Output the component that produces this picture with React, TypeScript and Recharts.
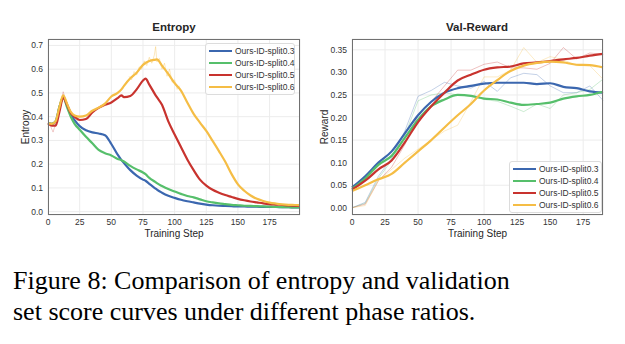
import { CartesianGrid, Line, LineChart, XAxis, YAxis } from 'recharts';

const FONT = '"Liberation Sans", Arial, Helvetica, sans-serif';

const splitNames = ['Ours-ID-split0.3', 'Ours-ID-split0.4', 'Ours-ID-split0.5', 'Ours-ID-split0.6'];
const splitColors = ['#3B67AF', '#56BF6B', '#C8332E', '#F5BD45'];
const splitKeys = ['s03', 's04', 's05', 's06'];

// Entropy curves (smoothed), sampled on a shared step grid
const entropySteps = [
  0, 3, 6, 9, 12, 15, 18, 21, 25, 30, 35, 40, 45, 50, 55, 58, 60, 65, 70, 75, 77, 80, 85, 86, 90, 95,
  100, 105, 110, 115, 120, 125, 130, 135, 140, 145, 150, 155, 160, 165, 170, 175, 180, 185, 190, 195, 199,
];
const entropy03 = [
  0.372, 0.37, 0.38, 0.44, 0.482, 0.45, 0.41, 0.385, 0.36, 0.343, 0.334, 0.329, 0.322, 0.285, 0.24, 0.217, 0.205,
  0.175, 0.152, 0.135, 0.13, 0.117, 0.097, 0.093, 0.08, 0.067, 0.058, 0.05, 0.044, 0.039, 0.034, 0.03, 0.027,
  0.025, 0.024, 0.023, 0.022, 0.022, 0.021, 0.021, 0.02, 0.02, 0.02, 0.019, 0.019, 0.018, 0.018,
];
const entropy04 = [
  0.372, 0.37, 0.38, 0.44, 0.482, 0.44, 0.4, 0.37, 0.345, 0.315, 0.288, 0.26, 0.246, 0.237, 0.222, 0.217, 0.211,
  0.193, 0.178, 0.165, 0.158, 0.142, 0.124, 0.12, 0.108, 0.095, 0.085, 0.075, 0.066, 0.06, 0.052, 0.044, 0.039,
  0.035, 0.032, 0.029, 0.027, 0.025, 0.024, 0.023, 0.022, 0.021, 0.02, 0.019, 0.019, 0.018, 0.018,
];
const entropy05 = [
  0.372, 0.362, 0.362, 0.42, 0.48, 0.45, 0.415, 0.4, 0.386, 0.39, 0.418, 0.437, 0.45, 0.46, 0.478, 0.49, 0.482,
  0.487, 0.515, 0.552, 0.56, 0.535, 0.49, 0.482, 0.45, 0.38, 0.325, 0.272, 0.22, 0.175, 0.135, 0.11, 0.092, 0.08,
  0.07, 0.062, 0.054, 0.048, 0.043, 0.039, 0.035, 0.032, 0.03, 0.028, 0.026, 0.025, 0.024,
];
const entropy06 = [
  0.372, 0.37, 0.38, 0.44, 0.49, 0.455, 0.42, 0.405, 0.4, 0.405, 0.425, 0.438, 0.455, 0.485, 0.5, 0.515, 0.53,
  0.562, 0.585, 0.618, 0.626, 0.634, 0.64, 0.641, 0.615, 0.58, 0.541, 0.51, 0.46, 0.412, 0.375, 0.34, 0.298, 0.255,
  0.21, 0.158, 0.115, 0.088, 0.068, 0.054, 0.045, 0.038, 0.034, 0.031, 0.029, 0.028, 0.027,
];

// Raw (unsmoothed) entropy where the noise shows through
const rawEntropySteps05 = [0, 2, 4, 6, 8, 10, 12, 14, 16];
const rawEntropy05 = [0.37, 0.36, 0.335, 0.37, 0.4, 0.46, 0.505, 0.47, 0.44];
const rawEntropySteps06 = [64, 66, 68, 70, 72, 74, 76, 78, 80, 82, 84, 85, 86, 88, 90, 92, 94, 96, 98, 100, 102, 104];
const rawEntropy06 = [
  0.57, 0.555, 0.59, 0.575, 0.61, 0.6, 0.635, 0.615, 0.65, 0.625, 0.66, 0.695, 0.63, 0.645, 0.6, 0.625, 0.57,
  0.6, 0.545, 0.555, 0.515, 0.53,
];

// Validation reward, evaluated every 10 steps: raw and smoothed
const rewardSteps = [0, 10, 20, 30, 40, 50, 60, 70, 80, 90, 100, 110, 120, 130, 140, 150, 160, 170, 180, 190];
const reward03 = [
  0.045, 0.07, 0.1, 0.125, 0.165, 0.205, 0.235, 0.255, 0.265, 0.27, 0.275, 0.277, 0.277, 0.277, 0.274, 0.276,
  0.268, 0.265, 0.258, 0.255,
];
const reward04 = [
  0.042, 0.065, 0.095, 0.115, 0.155, 0.195, 0.225, 0.24, 0.25, 0.248, 0.242, 0.24, 0.233, 0.228, 0.23, 0.233,
  0.242, 0.247, 0.25, 0.257,
];
const reward05 = [
  0.04, 0.06, 0.085, 0.105, 0.145, 0.19, 0.225, 0.255, 0.282, 0.295, 0.306, 0.311, 0.313, 0.32, 0.322, 0.325,
  0.329, 0.332, 0.337, 0.341,
];
const reward06 = [
  0.037, 0.05, 0.063, 0.075, 0.1, 0.125, 0.15, 0.178, 0.205, 0.23, 0.26, 0.283, 0.303, 0.315, 0.321, 0.324,
  0.322, 0.317, 0.316, 0.311,
];
const rawReward03 = [
  0.0, 0.012, 0.07, 0.11, 0.17, 0.247, 0.26, 0.278, 0.27, 0.265, 0.28, 0.258, 0.288, 0.298, 0.295, 0.27, 0.255,
  0.255, 0.27, 0.238,
];
const rawReward04 = [
  0.0, 0.01, 0.065, 0.105, 0.16, 0.237, 0.25, 0.255, 0.25, 0.248, 0.24, 0.236, 0.225, 0.213, 0.23, 0.22, 0.25,
  0.255, 0.262, 0.285,
];
const rawReward05 = [
  0.0, 0.008, 0.06, 0.09, 0.14, 0.205, 0.235, 0.27, 0.305, 0.305, 0.318, 0.323, 0.31, 0.31, 0.307, 0.32, 0.355,
  0.33, 0.343, 0.34,
];
const rawReward06 = [
  0.0, 0.005, 0.06, 0.085, 0.11, 0.13, 0.15, 0.17, 0.183, 0.235, 0.29, 0.29, 0.305, 0.355, 0.322, 0.335, 0.328,
  0.315, 0.315, 0.285,
];

const entropyTicksX = [0, 25, 50, 75, 100, 125, 150, 175];
const entropyTicksY = [0, 0.1, 0.2, 0.3, 0.4, 0.5, 0.6, 0.7];
const rewardTicksX = [0, 25, 50, 75, 100, 125, 150, 175];
const rewardTicksY = [0, 0.05, 0.1, 0.15, 0.2, 0.25, 0.3, 0.35];

const entropyData = entropySteps.map((step, i) => ({
  step,
  s03: entropy03[i],
  s04: entropy04[i],
  s05: entropy05[i],
  s06: entropy06[i],
}));
const rawEntropyData05 = rawEntropySteps05.map((step, i) => ({ step, v: rawEntropy05[i] }));
const rawEntropyData06 = rawEntropySteps06.map((step, i) => ({ step, v: rawEntropy06[i] }));

const rewardData = rewardSteps.map((step, i) => ({
  step,
  s03: reward03[i],
  s04: reward04[i],
  s05: reward05[i],
  s06: reward06[i],
  r03: rawReward03[i],
  r04: rawReward04[i],
  r05: rawReward05[i],
  r06: rawReward06[i],
}));

const tickStyle = { fontSize: 8.5, fill: '#333', fontFamily: FONT };
const axisLabelStyle = { fontSize: 10, fill: '#262626', fontFamily: FONT };

// matplotlib-style legend box: line swatch + label per split
function SplitLegend({ left, top, width }: { left: number; top: number; width: number }) {
  return (
    <div
      style={{
        position: 'absolute',
        left,
        top,
        width,
        background: 'rgba(255,255,255,0.85)',
        border: '1px solid #dcdcdc',
        borderRadius: 3,
        padding: '1px 3px',
        boxSizing: 'border-box',
        fontFamily: FONT,
      }}
    >
      {splitNames.map((name, i) => (
        <div key={name} style={{ display: 'flex', alignItems: 'center', height: 12 }}>
          <span style={{ width: 23, height: 2, background: splitColors[i], marginRight: 3, flex: 'none' }} />
          <span style={{ fontSize: 8.5, color: '#333', whiteSpace: 'nowrap' }}>{name}</span>
        </div>
      ))}
    </div>
  );
}

function Frame({ left, top, width, height }: { left: number; top: number; width: number; height: number }) {
  return (
    <div
      style={{
        position: 'absolute',
        left,
        top,
        width,
        height,
        border: '1px solid #707070',
        boxSizing: 'border-box',
        pointerEvents: 'none',
      }}
    />
  );
}

function Title({ x, text }: { x: number; text: string }) {
  return (
    <div
      style={{
        position: 'absolute',
        left: x - 60,
        top: 20,
        width: 120,
        textAlign: 'center',
        fontFamily: FONT,
        fontWeight: 'bold',
        fontSize: 11.5,
        color: '#262626',
        lineHeight: '14px',
      }}
    >
      {text}
    </div>
  );
}

function EntropyChart() {
  return (
    <LineChart width={310} height={240} data={entropyData} margin={{ top: 39, right: 10, bottom: 0, left: 0 }}>
      <CartesianGrid stroke="#ececec" strokeWidth={1} />
      <XAxis
        dataKey="step"
        type="number"
        domain={[0, 199]}
        ticks={entropyTicksX}
        tick={tickStyle}
        tickLine={false}
        axisLine={false}
        tickSize={2}
        height={25}
        allowDuplicatedCategory={false}
        label={{ value: 'Training Step', position: 'center', dy: 6, style: axisLabelStyle }}
      />
      <YAxis
        type="number"
        domain={[-0.014, 0.727]}
        ticks={entropyTicksY}
        tickFormatter={(v: number) => v.toFixed(1)}
        tick={tickStyle}
        tickLine={false}
        axisLine={false}
        tickSize={3}
        width={48}
        allowDataOverflow
        label={{ value: 'Entropy', angle: -90, position: 'center', dx: 1, style: axisLabelStyle }}
      />
      <Line
        data={rawEntropyData05}
        dataKey="v"
        stroke={splitColors[2]}
        strokeOpacity={0.25}
        strokeWidth={1}
        dot={false}
        type="linear"
        isAnimationActive={false}
      />
      <Line
        data={rawEntropyData06}
        dataKey="v"
        stroke={splitColors[3]}
        strokeOpacity={0.35}
        strokeWidth={1}
        dot={false}
        type="linear"
        isAnimationActive={false}
      />
      {splitKeys.map((k, i) => (
        <Line
          key={k}
          dataKey={k}
          name={splitNames[i]}
          stroke={splitColors[i]}
          strokeWidth={2.2}
          dot={false}
          type="monotone"
          isAnimationActive={false}
        />
      ))}
    </LineChart>
  );
}

function RewardChart() {
  return (
    <LineChart width={325} height={240} data={rewardData} margin={{ top: 39, right: 22, bottom: 0, left: 0 }}>
      <CartesianGrid stroke="#ececec" strokeWidth={1} />
      <XAxis
        dataKey="step"
        type="number"
        domain={[0, 190]}
        ticks={rewardTicksX}
        tick={tickStyle}
        tickLine={false}
        axisLine={false}
        tickSize={2}
        height={25}
        label={{ value: 'Training Step', position: 'center', dy: 6, style: axisLabelStyle }}
      />
      <YAxis
        type="number"
        domain={[-0.016, 0.374]}
        ticks={rewardTicksY}
        tickFormatter={(v: number) => v.toFixed(2)}
        tick={tickStyle}
        tickLine={false}
        axisLine={false}
        tickSize={3}
        width={52}
        allowDataOverflow
        label={{ value: 'Reward', angle: -90, position: 'center', dx: -2, style: axisLabelStyle }}
      />
      {splitKeys.map((k, i) => (
        <Line
          key={'raw' + k}
          dataKey={'r' + k.slice(1)}
          stroke={splitColors[i]}
          strokeOpacity={0.3}
          strokeWidth={1}
          dot={false}
          type="linear"
          isAnimationActive={false}
        />
      ))}
      {splitKeys.map((k, i) => (
        <Line
          key={k}
          dataKey={k}
          name={splitNames[i]}
          stroke={splitColors[i]}
          strokeWidth={2.2}
          dot={false}
          type="monotone"
          isAnimationActive={false}
        />
      ))}
    </LineChart>
  );
}

export default function App() {
  return (
    <div style={{ position: 'absolute', left: 0, top: 0, width: 625, height: 344, background: '#fff' }}>
      <div style={{ position: 'absolute', left: 0, top: 0 }}>
        <EntropyChart />
      </div>
      <div style={{ position: 'absolute', left: 300, top: 0 }}>
        <RewardChart />
      </div>
      <Frame left={48} top={39} width={252} height={176} />
      <Frame left={352} top={39} width={251} height={176} />
      <SplitLegend left={205} top={43} width={90} />
      <SplitLegend left={509} top={161} width={93} />
      <Title x={174} text="Entropy" />
      <Title x={477} text="Val-Reward" />
      <div
        style={{
          position: 'absolute',
          left: 13,
          top: 265,
          width: 610,
          fontFamily: '"Liberation Serif", "Times New Roman", serif',
          fontSize: 26,
          lineHeight: '31px',
          color: '#000',
        }}
      >
        Figure 8: Comparison of entropy and validation
        <br />
        set score curves under different phase ratios.
      </div>
    </div>
  );
}
